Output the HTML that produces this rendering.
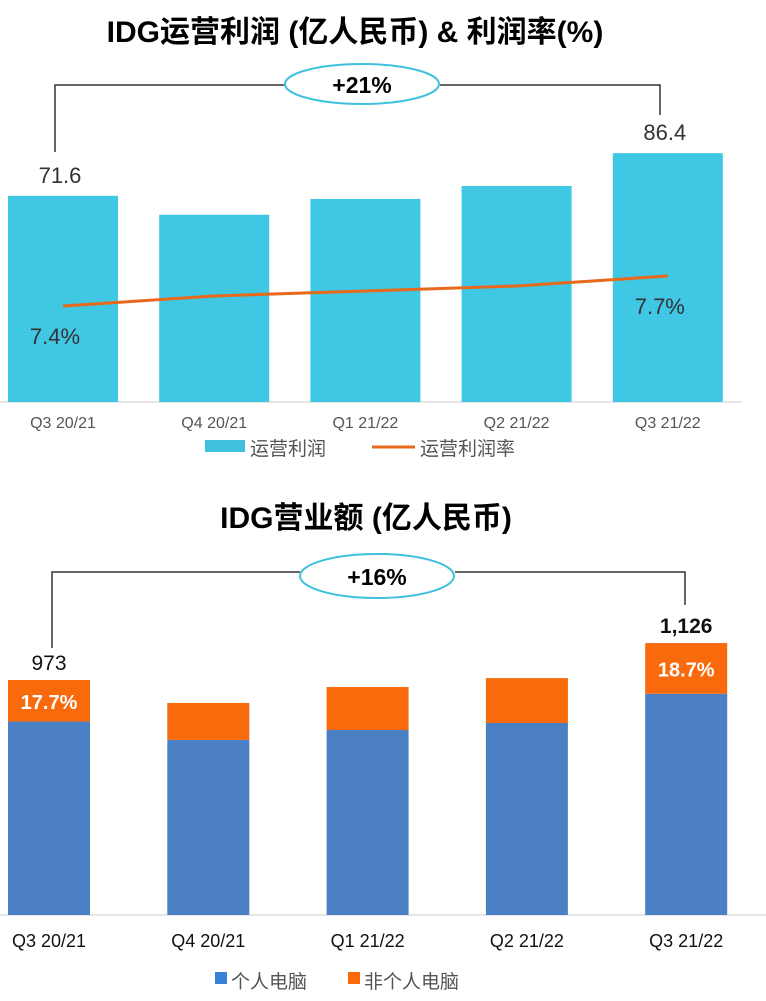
<!DOCTYPE html>
<html><head><meta charset="utf-8"><style>
body{margin:0;background:#fff;width:766px;height:996px;overflow:hidden}
svg text{font-family:"Liberation Sans","Noto Sans CJK SC",sans-serif}
</style></head><body>
<svg id="c" width="766" height="996" xmlns="http://www.w3.org/2000/svg">
<text x="355" y="42" text-anchor="middle" font-size="30" font-weight="bold" fill="#000">IDG运营利润 (亿人民币) &amp; 利润率(%)</text>
<path d="M55,152 V85 H285 M440,85 H660 V115" stroke="#333" fill="none" stroke-width="1.5"/>
<ellipse cx="362" cy="84" rx="77" ry="20" fill="#fff" stroke="#3fc1de" stroke-width="2"/>
<text x="362" y="93" text-anchor="middle" font-size="23" font-weight="bold">+21%</text>
<line x1="0" y1="402" x2="742" y2="402" stroke="#ccc"/>
<g id="top"></g>
<rect x="205" y="440" width="40" height="12" fill="#3fc1de"/>
<text x="250" y="455" font-size="19" fill="#555">运营利润</text>
<line x1="372" y1="447" x2="415" y2="447" stroke="#e8691c" stroke-width="3"/>
<text x="420" y="455" font-size="19" fill="#555">运营利润率</text>

<text x="366" y="528" text-anchor="middle" font-size="30" font-weight="bold">IDG营业额 (亿人民币)</text>
<path d="M52,648 V572 H300 M455,572 H685 V605" stroke="#333" fill="none" stroke-width="1.5"/>
<ellipse cx="377" cy="576" rx="77" ry="22" fill="#fff" stroke="#3fc1de" stroke-width="2"/>
<text x="377" y="585" text-anchor="middle" font-size="23" font-weight="bold">+16%</text>
<line x1="0" y1="915" x2="766" y2="915" stroke="#ccc"/>
<g id="bot"></g>
<rect x="215" y="972" width="12" height="12" fill="#3a7fd8"/>
<text x="231" y="988" font-size="19" fill="#555">个人电脑</text>
<rect x="348" y="972" width="12" height="12" fill="#f86a0c"/>
<text x="364" y="988" font-size="19" fill="#555">非个人电脑</text>
</svg>
<script>
const topCats=["Q3 20/21","Q4 20/21","Q1 21/22","Q2 21/22","Q3 21/22"];
const profit=[71.6,65,70.5,75,86.4];
const margin=[7.4,7.5,7.55,7.6,7.7];
const botCats=["Q3 20/21","Q4 20/21","Q1 21/22","Q2 21/22","Q3 21/22"];
const pcRev=[801,725,766,795,916];
const totalRev=[973,878,944,981,1126];
const NS="http://www.w3.org/2000/svg";
function mk(p,t,a){const e=document.createElementNS(NS,t);for(const k in a)e.setAttribute(k,a[k]);p.appendChild(e);return e;}
const tx=i=>63+i*151.2, ty=v=>402-v*2.88, my=v=>306-(v-7.4)*100;
const bx=i=>49+i*159.3, by=v=>915-v*0.2415;
const T=document.getElementById('top');
profit.forEach((v,i)=>{
 const r=mk(T,'rect',{x:tx(i)-55,y:ty(v),width:110,height:402-ty(v),fill:'#3fc7e3'});
 
 
 const l=mk(T,'text',{x:tx(i),y:428,'text-anchor':'middle','font-size':16,fill:'#555'});l.textContent=topCats[i];
 
 
});
const pl=mk(T,'polyline',{points:margin.map((v,i)=>tx(i)+','+my(v)).join(' '),fill:'none',stroke:'#e8691c','stroke-width':3});


[0,4].forEach(i=>{
 const v=profit[i];
 const t=mk(T,'text',{x:tx(i)-3,y:ty(v)-13,'text-anchor':'middle','font-size':22,fill:'#333'});t.textContent=v.toFixed(1);
 
 
});
[0,4].forEach(i=>{
 const t=mk(T,'text',{x:tx(i)-8,y:my(margin[i])+38,'text-anchor':'middle','font-size':22,fill:'#333'});t.textContent=margin[i].toFixed(1)+'%';
 
 
});
const B=document.getElementById('bot');
totalRev.forEach((tot,i)=>{
 const pc=pcRev[i];
 const a=mk(B,'rect',{x:bx(i)-41,y:by(pc),width:82,height:915-by(pc),fill:'#4b80c4'});
 
 
 const b=mk(B,'rect',{x:bx(i)-41,y:by(tot),width:82,height:by(pc)-by(tot),fill:'#f86a0c'});
 
 
 const l=mk(B,'text',{x:bx(i),y:947,'text-anchor':'middle','font-size':18,fill:'#111'});l.textContent=botCats[i];
 
 
});
[0,4].forEach(i=>{
 const t=mk(B,'text',{x:bx(i),y:by(totalRev[i])-10,'text-anchor':'middle','font-size':21,fill:'#111','font-weight':i?'bold':'normal'});
 t.textContent=totalRev[i].toLocaleString('en-US');
 
 
 const p=mk(B,'text',{x:bx(i),y:(by(totalRev[i])+by(pcRev[i]))/2+8,'text-anchor':'middle','font-size':20,'font-weight':'bold',fill:'#fff'});
 p.textContent=((totalRev[i]-pcRev[i])/totalRev[i]*100).toFixed(1)+'%';
 
 
});
</script>
</body></html>
